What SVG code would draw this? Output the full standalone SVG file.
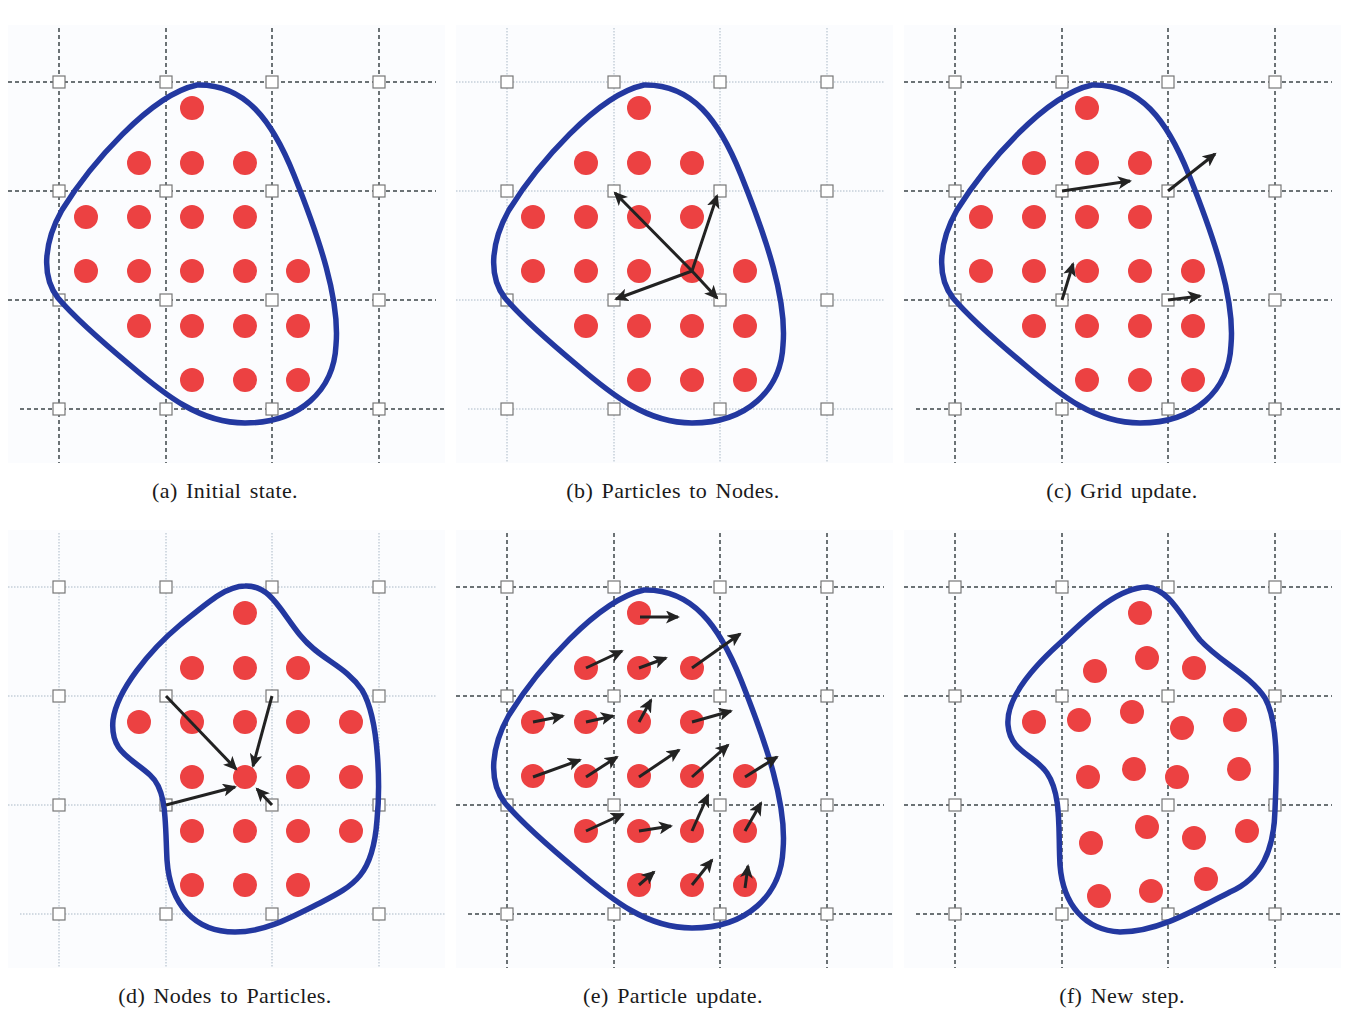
<svg xmlns="http://www.w3.org/2000/svg" xmlns:xlink="http://www.w3.org/1999/xlink" width="1350" height="1015" viewBox="0 0 1350 1015">
<style>
.bg{fill:#fbfcfe}
.gd{stroke:#3c4448;stroke-width:1.5;stroke-dasharray:4 3;fill:none}
.gl{stroke:#a9b8c6;stroke-width:1;stroke-dasharray:1.5 1.5;fill:none}
.nd{fill:#fff;stroke:#777;stroke-width:1.2}
.blob{fill:none;stroke:#2338a0;stroke-width:5.5;stroke-linejoin:round}
.p{fill:#ec4142}
.ar{stroke:#222;stroke-width:3;fill:none;marker-end:url(#ah)}
.lbl{font-family:"Liberation Serif","Times New Roman",serif;font-size:22px;letter-spacing:0.4px;word-spacing:2.5px;fill:#1a1a1a;text-anchor:middle}
</style>
<defs>
<marker id="ah" markerUnits="userSpaceOnUse" markerWidth="15" markerHeight="13" refX="12" refY="6.5" orient="auto">
<path d="M0,0 L14,6.5 L0,13 L3.5,6.5 Z" fill="#222"/>
</marker>
<g id="lines">
<line x1="59" y1="28" x2="59" y2="463"/><line x1="166" y1="28" x2="166" y2="463"/><line x1="272" y1="28" x2="272" y2="463"/><line x1="379" y1="28" x2="379" y2="463"/>
<line x1="8" y1="82" x2="436" y2="82"/><line x1="8" y1="191" x2="436" y2="191"/><line x1="8" y1="300" x2="436" y2="300"/><line x1="20" y1="409" x2="446" y2="409"/>
</g>
<g id="nodes">
<rect class="nd" x="53" y="76" width="12" height="12"/><rect class="nd" x="160" y="76" width="12" height="12"/><rect class="nd" x="266" y="76" width="12" height="12"/><rect class="nd" x="373" y="76" width="12" height="12"/>
<rect class="nd" x="53" y="185" width="12" height="12"/><rect class="nd" x="160" y="185" width="12" height="12"/><rect class="nd" x="266" y="185" width="12" height="12"/><rect class="nd" x="373" y="185" width="12" height="12"/>
<rect class="nd" x="53" y="294" width="12" height="12"/><rect class="nd" x="160" y="294" width="12" height="12"/><rect class="nd" x="266" y="294" width="12" height="12"/><rect class="nd" x="373" y="294" width="12" height="12"/>
<rect class="nd" x="53" y="403" width="12" height="12"/><rect class="nd" x="160" y="403" width="12" height="12"/><rect class="nd" x="266" y="403" width="12" height="12"/><rect class="nd" x="373" y="403" width="12" height="12"/>
</g>
<g id="gridDashed"><rect class="bg" x="8" y="25" width="437" height="438"/><use xlink:href="#lines" class="gd"/><use xlink:href="#nodes"/></g>
<g id="gridLight"><rect class="bg" x="8" y="25" width="437" height="438"/><use xlink:href="#lines" class="gl"/><use xlink:href="#nodes"/></g>
<path id="blobA" class="blob" d="M197,85 C245,84 272,120 294,175 C320,240 340,300 336,345 C334,390 300,423 245,423 C200,423 165,395 130,365 C100,340 75,318 58,298 C40,275 45,240 62,210 C90,165 150,95 197,85 Z"/>
<g id="dotsA">
<circle class="p" cx="192" cy="108" r="12"/>
<circle class="p" cx="139" cy="163" r="12"/><circle class="p" cx="192" cy="163" r="12"/><circle class="p" cx="245" cy="163" r="12"/>
<circle class="p" cx="86" cy="217" r="12"/><circle class="p" cx="139" cy="217" r="12"/><circle class="p" cx="192" cy="217" r="12"/><circle class="p" cx="245" cy="217" r="12"/>
<circle class="p" cx="86" cy="271" r="12"/><circle class="p" cx="139" cy="271" r="12"/><circle class="p" cx="192" cy="271" r="12"/><circle class="p" cx="245" cy="271" r="12"/><circle class="p" cx="298" cy="271" r="12"/>
<circle class="p" cx="139" cy="326" r="12"/><circle class="p" cx="192" cy="326" r="12"/><circle class="p" cx="245" cy="326" r="12"/><circle class="p" cx="298" cy="326" r="12"/>
<circle class="p" cx="192" cy="380" r="12"/><circle class="p" cx="245" cy="380" r="12"/><circle class="p" cx="298" cy="380" r="12"/>
</g>
</defs>

<g id="panel-a">
<use xlink:href="#gridDashed"/>
<use xlink:href="#blobA"/>
<g id="particles-a"><use xlink:href="#dotsA"/></g>
<text class="lbl" x="225" y="498">(a) Initial state.</text>
</g>

<g id="panel-b">
<use xlink:href="#gridLight" transform="translate(448,0)"/>
<use xlink:href="#blobA" transform="translate(447,0)"/>
<g id="particles-b"><use xlink:href="#dotsA" transform="translate(447,0)"/></g>
<g id="connectors-b">
<line class="ar" x1="692" y1="271" x2="615" y2="193"/>
<line class="ar" x1="692" y1="271" x2="717" y2="196"/>
<line class="ar" x1="692" y1="271" x2="616" y2="299"/>
<line class="ar" x1="692" y1="271" x2="717" y2="298"/>
</g>
<text class="lbl" x="673" y="498">(b) Particles to Nodes.</text>
</g>

<g id="panel-c">
<use xlink:href="#gridDashed" transform="translate(896,0)"/>
<use xlink:href="#blobA" transform="translate(895,0)"/>
<g id="particles-c"><use xlink:href="#dotsA" transform="translate(895,0)"/></g>
<g id="connectors-c">
<line class="ar" x1="1062" y1="191" x2="1130" y2="181"/>
<line class="ar" x1="1168" y1="191" x2="1215" y2="154"/>
<line class="ar" x1="1062" y1="300" x2="1073" y2="264"/>
<line class="ar" x1="1168" y1="300" x2="1200" y2="296"/>
</g>
<text class="lbl" x="1122" y="498">(c) Grid update.</text>
</g>

<g id="panel-d">
<use xlink:href="#gridLight" transform="translate(0,505)"/>
<path class="blob" d="M245,586 C270,585 280,610 300,635 C320,660 345,665 362,690 C380,720 380,790 377,820 C373,875 355,885 320,903 C290,918 265,932 235,932 C195,932 170,905 167,860 C165,820 167,790 150,775 C130,757 110,752 113,720 C117,690 150,650 180,625 C205,605 225,586 245,586 Z"/>
<g id="particles-d">
<circle class="p" cx="245" cy="613" r="12"/>
<circle class="p" cx="192" cy="668" r="12"/><circle class="p" cx="245" cy="668" r="12"/><circle class="p" cx="298" cy="668" r="12"/>
<circle class="p" cx="139" cy="722" r="12"/><circle class="p" cx="192" cy="722" r="12"/><circle class="p" cx="245" cy="722" r="12"/><circle class="p" cx="298" cy="722" r="12"/><circle class="p" cx="351" cy="722" r="12"/>
<circle class="p" cx="192" cy="777" r="12"/><circle class="p" cx="245" cy="777" r="12"/><circle class="p" cx="298" cy="777" r="12"/><circle class="p" cx="351" cy="777" r="12"/>
<circle class="p" cx="192" cy="831" r="12"/><circle class="p" cx="245" cy="831" r="12"/><circle class="p" cx="298" cy="831" r="12"/><circle class="p" cx="351" cy="831" r="12"/>
<circle class="p" cx="192" cy="885" r="12"/><circle class="p" cx="245" cy="885" r="12"/><circle class="p" cx="298" cy="885" r="12"/>
</g>
<g id="connectors-d">
<line class="ar" x1="166" y1="696" x2="236" y2="769"/>
<line class="ar" x1="272" y1="696" x2="253" y2="766"/>
<line class="ar" x1="166" y1="805" x2="235" y2="787"/>
<line class="ar" x1="272" y1="805" x2="257" y2="789"/>
</g>
<text class="lbl" x="225" y="1003">(d) Nodes to Particles.</text>
</g>

<g id="panel-e">
<use xlink:href="#gridDashed" transform="translate(448,505)"/>
<use xlink:href="#blobA" transform="translate(447,505)"/>
<g id="particles-e"><use xlink:href="#dotsA" transform="translate(447,505)"/></g>
<g id="connectors-e">
<line class="ar" x1="640" y1="617" x2="678" y2="617"/>
<line class="ar" x1="586" y1="668" x2="622" y2="651"/>
<line class="ar" x1="639" y1="668" x2="666" y2="658"/>
<line class="ar" x1="692" y1="668" x2="740" y2="634"/>
<line class="ar" x1="533" y1="722" x2="563" y2="716"/>
<line class="ar" x1="586" y1="722" x2="613" y2="716"/>
<line class="ar" x1="639" y1="722" x2="651" y2="700"/>
<line class="ar" x1="692" y1="722" x2="731" y2="711"/>
<line class="ar" x1="533" y1="777" x2="580" y2="760"/>
<line class="ar" x1="586" y1="777" x2="617" y2="757"/>
<line class="ar" x1="639" y1="777" x2="679" y2="750"/>
<line class="ar" x1="692" y1="777" x2="728" y2="745"/>
<line class="ar" x1="745" y1="777" x2="777" y2="757"/>
<line class="ar" x1="586" y1="831" x2="623" y2="814"/>
<line class="ar" x1="639" y1="831" x2="671" y2="826"/>
<line class="ar" x1="692" y1="831" x2="708" y2="795"/>
<line class="ar" x1="745" y1="831" x2="761" y2="803"/>
<line class="ar" x1="639" y1="885" x2="654" y2="872"/>
<line class="ar" x1="692" y1="885" x2="712" y2="860"/>
<line class="ar" x1="745" y1="888" x2="748" y2="866"/>
</g>
<text class="lbl" x="673" y="1003">(e) Particle update.</text>
</g>

<g id="panel-f">
<use xlink:href="#gridDashed" transform="translate(896,505)"/>
<path class="blob" d="M1147,587 C1170,590 1180,615 1200,640 C1220,662 1250,675 1265,698 C1280,725 1276,780 1275,810 C1274,850 1262,878 1230,892 C1200,907 1160,932 1120,932 C1085,930 1063,905 1060,865 C1058,830 1062,795 1047,773 C1035,755 1010,752 1008,725 C1006,700 1030,670 1060,643 C1085,620 1115,588 1147,587 Z"/>
<g id="particles-f">
<circle class="p" cx="1140" cy="613" r="12"/>
<circle class="p" cx="1095" cy="671" r="12"/><circle class="p" cx="1147" cy="658" r="12"/><circle class="p" cx="1194" cy="668" r="12"/>
<circle class="p" cx="1034" cy="722" r="12"/><circle class="p" cx="1079" cy="720" r="12"/><circle class="p" cx="1132" cy="712" r="12"/><circle class="p" cx="1182" cy="728" r="12"/><circle class="p" cx="1235" cy="720" r="12"/>
<circle class="p" cx="1088" cy="777" r="12"/><circle class="p" cx="1134" cy="769" r="12"/><circle class="p" cx="1177" cy="777" r="12"/><circle class="p" cx="1239" cy="769" r="12"/>
<circle class="p" cx="1147" cy="827" r="12"/><circle class="p" cx="1091" cy="843" r="12"/><circle class="p" cx="1194" cy="838" r="12"/><circle class="p" cx="1247" cy="831" r="12"/>
<circle class="p" cx="1099" cy="896" r="12"/><circle class="p" cx="1151" cy="891" r="12"/><circle class="p" cx="1206" cy="879" r="12"/>
</g>
<text class="lbl" x="1122" y="1003">(f) New step.</text>
</g>
</svg>
